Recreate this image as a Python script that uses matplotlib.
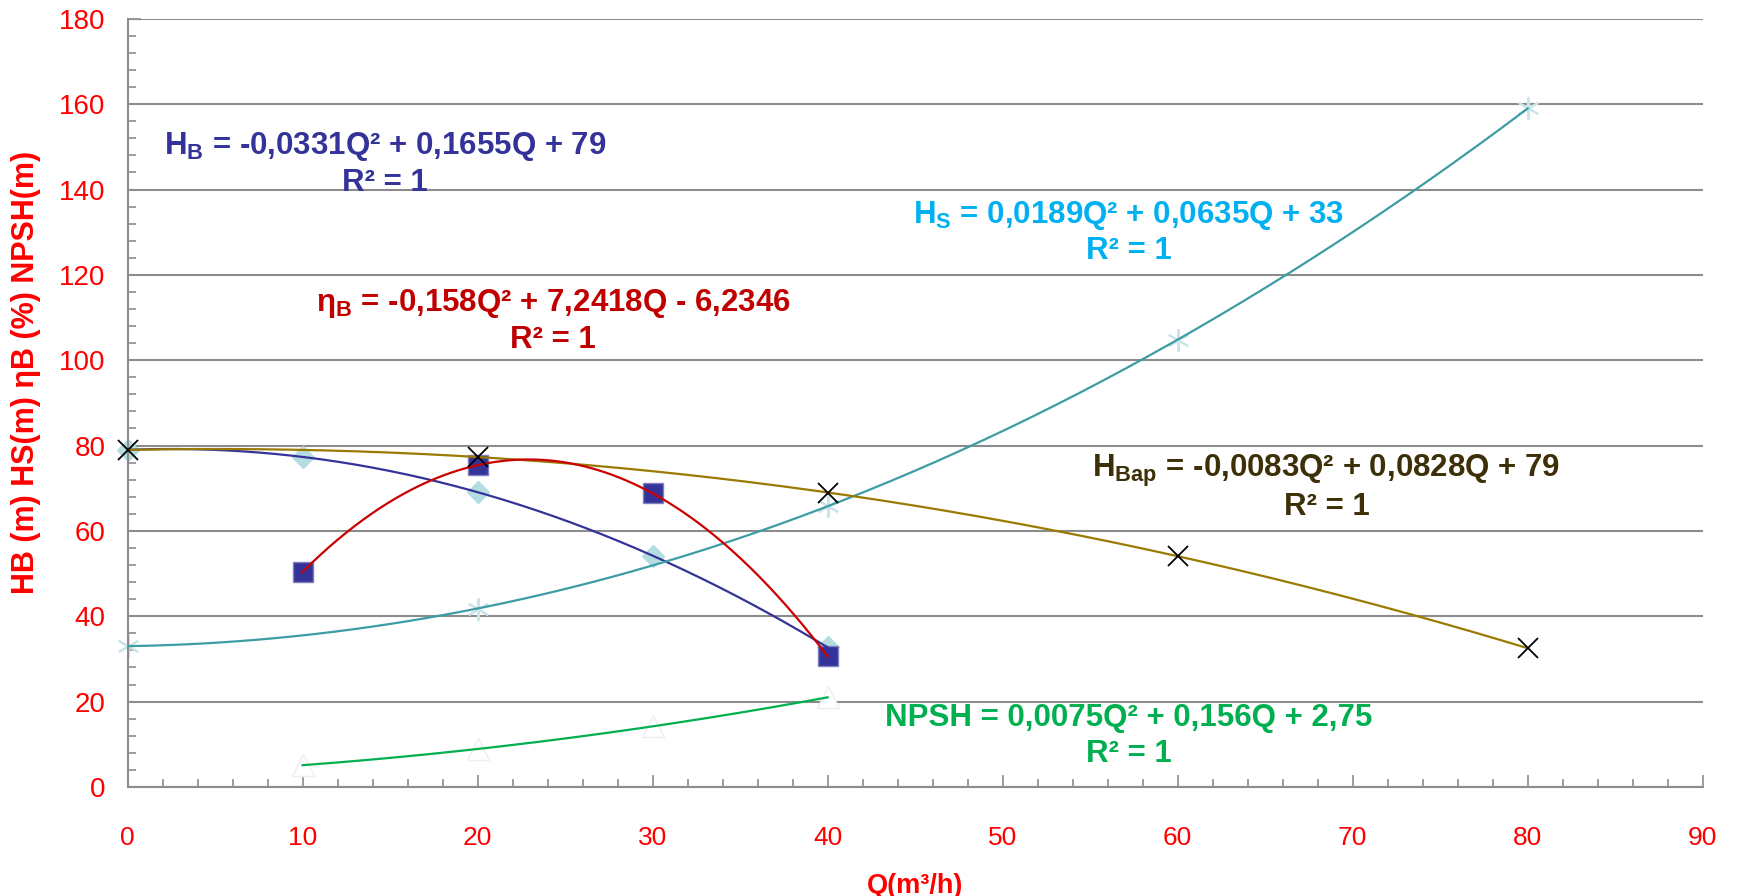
import numpy as np
import matplotlib
matplotlib.use("Agg")
import matplotlib.pyplot as plt
from matplotlib.ticker import MultipleLocator

plt.rcParams['font.family'] = ['Liberation Sans', 'DejaVu Sans']

# ---- data ----
q_hb = [0, 10, 20, 30, 40]
hb = [79.0, 77.3, 69.1, 54.2, 32.7]

q_eta = [10, 20, 30, 40]
eta = [50.4, 75.4, 68.8, 30.6]

q_hs = [0, 20, 40, 60, 80]
hs = [33.0, 41.8, 65.8, 104.8, 159.0]

q_hbap = [0, 20, 40, 60, 80]
hbap = [79.0, 77.3, 69.0, 54.1, 32.5]

q_npsh = [10, 20, 30, 40]
npsh = [5.1, 8.9, 14.2, 21.0]

eq_hb = ["H$_\\mathbf{B}$ = -0,0331Q² + 0,1655Q + 79", "R² = 1"]
eq_eta = ["η$_\\mathbf{B}$ = -0,158Q² + 7,2418Q - 6,2346", "R² = 1"]
eq_hs = ["H$_\\mathbf{S}$ = 0,0189Q² + 0,0635Q + 33", "R² = 1"]
eq_hbap = ["H$_\\mathbf{Bap}$ = -0,0083Q² + 0,0828Q + 79", "R² = 1"]
eq_npsh = ["NPSH = 0,0075Q² + 0,156Q + 2,75", "R² = 1"]

plt.rcParams['mathtext.fontset'] = 'custom'
plt.rcParams['mathtext.bf'] = 'Liberation Sans:bold'
plt.rcParams['mathtext.rm'] = 'Liberation Sans:bold'
plt.rcParams['mathtext.default'] = 'bf'

fig = plt.figure(figsize=(17.38, 8.96), dpi=100)
ax = fig.add_axes([0.0734, 0.1217, 0.9063, 0.8573])

def trend(qs, ys, color, zorder=3):
    c = np.polyfit(qs, ys, 2)
    xx = np.linspace(min(qs), max(qs), 300)
    ax.plot(xx, np.polyval(c, xx), color=color, lw=1.6, zorder=zorder)

# markers (behind the trendlines)
ax.plot(q_hb, hb, linestyle='none', marker='D', ms=11, mfc='#B3DDE1', mec='#B3DDE1', zorder=2, clip_on=False)
ax.plot(q_eta, eta, linestyle='none', marker='s', ms=15, mfc='#333399', mec='#8080C0', mew=1, zorder=2, clip_on=False)
ax.plot(q_hs, hs, linestyle='none', marker=(6, 2, 0), ms=16, mec='#C8E6EA', mew=1.5, zorder=2, clip_on=False)
ax.plot(q_npsh, npsh, linestyle='none', marker='^', ms=16, mfc='white', mec='#EEEEEE', mew=1, zorder=2, clip_on=False)

trend(q_hb, hb, '#333399')
trend(q_eta, eta, '#CC0000', zorder=4)
trend(q_hs, hs, '#3D9CA4')
trend(q_hbap, hbap, '#9A7A00')
trend(q_npsh, npsh, '#00B050')

ax.plot(q_hbap, hbap, linestyle='none', marker='x', ms=14, mec='black', mew=1.3, zorder=5, clip_on=False)

# equations
fs = 22.5
def eq(x, y, lines, color):
    ax.text(x, y, lines[0], color=color, fontsize=fs, fontweight='bold', ha='center', va='center', zorder=6)
    ax.text(x, y - 8.4, lines[1], color=color, fontsize=fs, fontweight='bold', ha='center', va='center', zorder=6)

eq(14.7, 150.0, eq_hb, '#333399')
eq(24.3, 113.2, eq_eta, '#C00000')
eq(57.2, 134.0, eq_hs, '#00B0F0')
eq(68.5, 74.0, eq_hbap, '#3D3008')
eq(57.2, 16.1, eq_npsh, '#00B050')

# axes styling
ax.set_xlim(0, 90)
ax.set_ylim(0, 180)
ax.xaxis.set_major_locator(MultipleLocator(10))
ax.xaxis.set_minor_locator(MultipleLocator(2))
ax.yaxis.set_major_locator(MultipleLocator(20))
ax.yaxis.set_minor_locator(MultipleLocator(4))
ax.grid(axis='y', which='major', color='#8C8C8C', lw=1.5)
ax.set_axisbelow(True)
for s in ['top', 'right']:
    ax.spines[s].set_visible(False)
for s in ['left', 'bottom']:
    ax.spines[s].set_color('#8C8C8C')
    ax.spines[s].set_linewidth(1.5)
ax.tick_params(which='both', direction='in', color='#8C8C8C', width=1.2)
ax.tick_params(which='major', length=9)
ax.tick_params(which='minor', length=6)
ax.tick_params(axis='x', which='major', labelsize=19, labelcolor='#FF0000', pad=28)
ax.tick_params(axis='y', which='major', labelsize=20, labelcolor='#FF0000', pad=16)

ax.set_xlabel('Q(m³/h)', color='#FF0000', fontsize=19.5, fontweight='bold', labelpad=18)
ax.set_ylabel('HB (m) HS(m) ηB (%) NPSH(m)', color='#FF0000', fontsize=22, fontweight='bold', labelpad=14)
ax.yaxis.set_label_coords(-0.055, 0.54)
ax.xaxis.set_label_coords(0.5, -0.112)

fig.savefig('out.png', dpi=100)
